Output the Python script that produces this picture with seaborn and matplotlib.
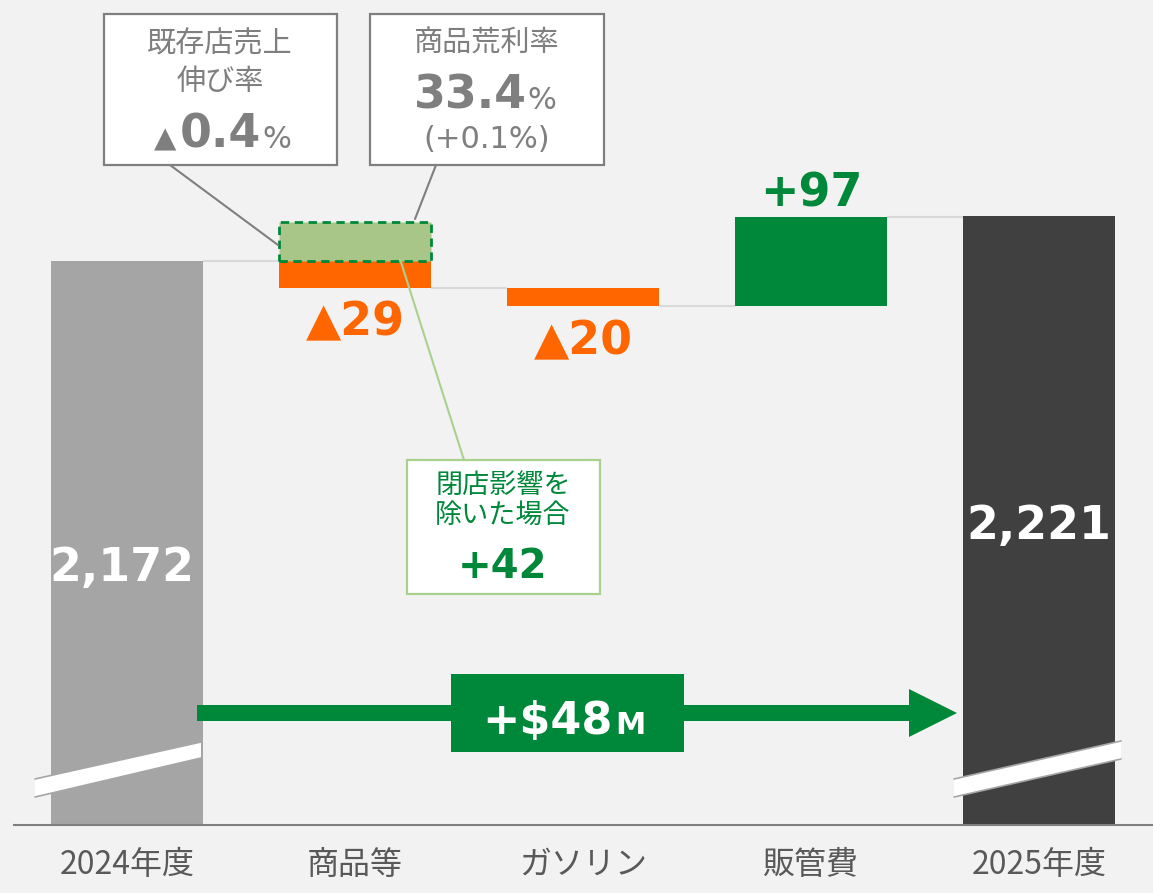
import numpy as np
import pandas as pd
import matplotlib
matplotlib.use('Agg')
import matplotlib.pyplot as plt
import matplotlib.patches as mpatches
import seaborn as sns

# --- data ---
categories = ['2024年度', '商品等', 'ガソリン', '販管費', '2025年度']
start_total = 2172
deltas = [-29, -20, 97]
end_total = 2221
delta_labels = ['▲29', '▲20', '+97']
bar_colors = ['#A5A5A5', '#FF6600', '#FF6600', '#00883A', '#404040']
label_colors = ['#FF6600', '#FF6600', '#00883A']

growth_title = ['既存店売上', '伸び率']
growth_value = '0.4'
margin_title = '商品荒利率'
margin_value = '33.4'
margin_diff = '(+0.1%)'
closure_title = ['閉店影響を', '除いた場合']
closure_value = 42
total_change = '+$48'

BG = '#F2F2F2'
GREEN = '#00883A'
GRAY_TXT = '#7F7F7F'
JP = ['Noto Sans CJK JP', 'DejaVu Sans']
NUM = ['DejaVu Sans', 'Noto Sans CJK JP']

sns.set_style('white')
plt.rcParams['font.family'] = JP

# waterfall geometry from the data
running = start_total + np.cumsum([0] + deltas)
bottoms = [0] + [min(running[i], running[i + 1]) for i in range(len(deltas))] + [0]
heights = [start_total] + [abs(d) for d in deltas] + [end_total]
df = pd.DataFrame({'cat': categories, 'height': heights, 'bottom': bottoms})

fig = plt.figure(figsize=(11.53, 8.93), dpi=100, facecolor=BG)
ax = fig.add_axes([14 / 1153, 68 / 893, 1139 / 1153, 825 / 893])
ax.set_facecolor(BG)

BW = 0.667
sns.barplot(data=df, x='cat', y='height', bottom=df['bottom'].to_numpy(),
            order=categories, width=BW, errorbar=None, saturation=1,
            color='#A5A5A5', ax=ax, zorder=2)
for patch, c in zip(ax.patches, bar_colors):
    patch.set_facecolor(c)
    patch.set_edgecolor('none')

XL = (-0.496, 4.5)
YL = (1558, 2456)
ax.set_xlim(*XL)
ax.set_ylim(*YL)


def tx(xp):
    return XL[0] + (xp - 14) / 1139 * (XL[1] - XL[0])


def ty(yp):
    return YL[1] - yp / 825 * (YL[1] - YL[0])


def pts(*xy):
    return [(tx(a), ty(b)) for a, b in xy]


YPX = (YL[1] - YL[0]) / 825
XPX = (XL[1] - XL[0]) / 1139

# connectors between bars
for i, lv in enumerate(running):
    ax.hlines(lv, i + BW / 2, i + 1 - BW / 2, color='#D9D9D9', lw=1.5, zorder=1)

# dashed box: growth excluding store closures
ax.bar(1, closure_value, bottom=start_total, width=BW, facecolor='#A9C689',
       edgecolor=GREEN, linestyle=(0, (3, 2)), linewidth=2, zorder=3)

# value labels
ax.text(tx(122), ty(581), f'{start_total:,}', ha='center', va='baseline', color='white',
        fontsize=33, fontweight='bold', family=NUM, zorder=6)
ax.text(4, ty(539), f'{end_total:,}', ha='center', va='baseline', color='white',
        fontsize=33, fontweight='bold', family=NUM, zorder=6)
for i, (lab, col, base) in enumerate(zip(delta_labels, label_colors, [335, 354, 207])):
    ax.text(i + 1, ty(base), lab, ha='center', va='baseline', color=col,
            fontsize=33, fontweight='bold', family=NUM, zorder=6)

# break marks
for poly in ([(35, 779), (201, 742), (201, 758), (35, 797)],
             [(954, 779), (1121, 741), (1121, 759), (954, 797)]):
    ax.add_patch(mpatches.Polygon(pts(*poly), closed=True, facecolor='white',
                                  edgecolor='none', zorder=4))
    for a, b in ((poly[0], poly[1]), (poly[3], poly[2])):
        (x1, y1), (x2, y2) = pts(a, b)
        ax.plot([x1, x2], [y1, y2], color='#A6A6A6', lw=1.2, zorder=4)

# total change arrow
ax.add_patch(mpatches.FancyArrow(tx(197), ty(713), tx(957) - tx(197), 0,
                                 width=16 * YPX, head_width=48 * YPX,
                                 head_length=48 * XPX, length_includes_head=True,
                                 facecolor=GREEN, edgecolor='none', zorder=4))
ax.add_patch(mpatches.Rectangle((tx(451), ty(752)), tx(684) - tx(451), ty(674) - ty(752),
                                facecolor=GREEN, edgecolor='none', zorder=5))
ax.text(tx(613), ty(734), total_change, ha='right', va='baseline', color='white',
        fontsize=32, fontweight='bold', family=NUM, zorder=6)
ax.text(tx(615), ty(734), 'M', ha='left', va='baseline', color='white',
        fontsize=22, fontweight='bold', family=NUM, zorder=6)

# callout leaders
leaders = [((170, 165), (278, 245), '#7F7F7F'),
           ((436, 165), (415, 219), '#7F7F7F'),
           ((400, 259), (464, 460), '#A9D18E')]
for a, b, col in leaders:
    (x1, y1), (x2, y2) = pts(a, b)
    ax.plot([x1, x2], [y1, y2], color=col, lw=1.5, zorder=3.5)


def box(x0, y0, x1, y1, ec):
    ax.add_patch(mpatches.Rectangle((tx(x0), ty(y1)), tx(x1) - tx(x0), ty(y0) - ty(y1),
                                    facecolor='white', edgecolor=ec, lw=1.6, zorder=4))


box(104, 14, 337, 165, '#7F7F7F')
box(370, 14, 604, 165, '#7F7F7F')
box(407, 460, 600, 594, '#A9D18E')

# box 1
ax.text(tx(220), ty(44), growth_title[0], ha='center', va='center', color=GRAY_TXT,
        fontsize=21, zorder=6)
ax.text(tx(220), ty(82), growth_title[1], ha='center', va='center', color=GRAY_TXT,
        fontsize=21, zorder=6)
ax.text(tx(165), ty(147), '▲', ha='center', va='baseline', color=GRAY_TXT,
        fontsize=21, family=NUM, zorder=6)
ax.text(tx(220), ty(148), growth_value, ha='center', va='baseline', color=GRAY_TXT,
        fontsize=33, fontweight='bold', family=NUM, zorder=6)
ax.text(tx(262), ty(148), '%', ha='left', va='baseline', color=GRAY_TXT,
        fontsize=22, family=NUM, zorder=6)

# box 2
ax.text(tx(487), ty(44), margin_title, ha='center', va='center', color=GRAY_TXT,
        fontsize=21, zorder=6)
ax.text(tx(470), ty(109), margin_value, ha='center', va='baseline', color=GRAY_TXT,
        fontsize=33, fontweight='bold', family=NUM, zorder=6)
ax.text(tx(527), ty(109), '%', ha='left', va='baseline', color=GRAY_TXT,
        fontsize=22, family=NUM, zorder=6)
ax.text(tx(487), ty(140), margin_diff, ha='center', va='center', color=GRAY_TXT,
        fontsize=22, family=NUM, zorder=6)

# box 3
ax.text(tx(503), ty(485), closure_title[0], ha='center', va='center', color=GREEN,
        fontsize=19.5, zorder=6)
ax.text(tx(503), ty(515), closure_title[1], ha='center', va='center', color=GREEN,
        fontsize=19.5, zorder=6)
ax.text(tx(503), ty(578), f'+{closure_value}', ha='center', va='baseline', color=GREEN,
        fontsize=29, fontweight='bold', family=NUM, zorder=6)

# axes styling
ax.set_xlabel('')
ax.set_ylabel('')
ax.set_yticks([])
ax.set_xticks(range(len(categories)))
ax.set_xticklabels(categories, fontsize=23, color='#595959')
ax.tick_params(axis='x', length=0, pad=17)
for side in ['top', 'right', 'left']:
    ax.spines[side].set_visible(False)
ax.spines['bottom'].set_color('#7F7F7F')
ax.spines['bottom'].set_linewidth(1.5)
ax.spines['bottom'].set_zorder(5)

fig.savefig('out.png', dpi=100, facecolor=BG)
